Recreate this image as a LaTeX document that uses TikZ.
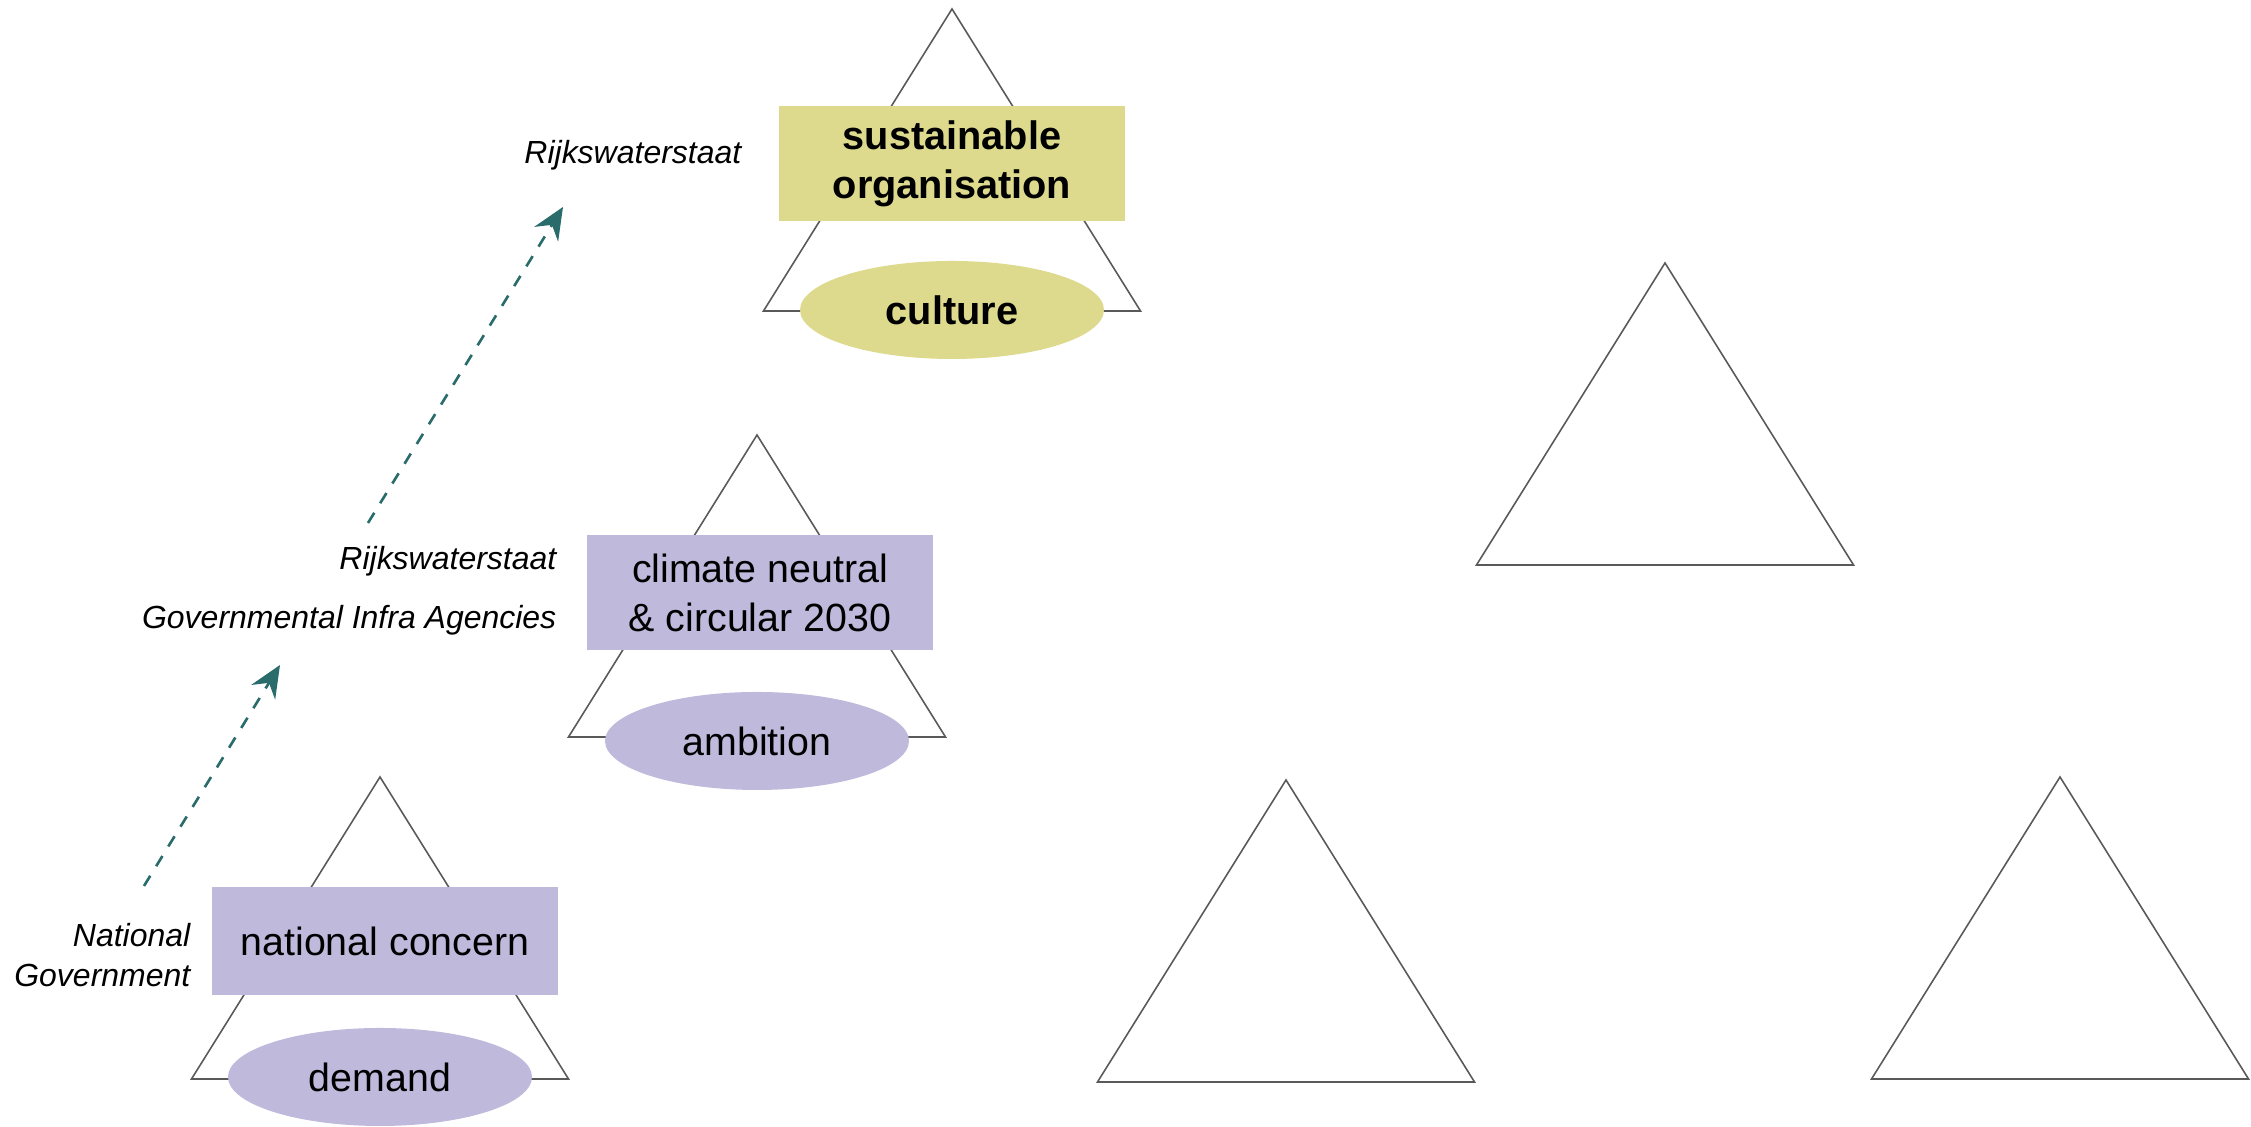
\documentclass[tikz,border=0pt]{standalone}
\usepackage{fontspec}
\setmainfont{Liberation Sans}
\usetikzlibrary{arrows.meta,shapes.geometric}
\definecolor{pyrlilac}{HTML}{BFB9DC}
\definecolor{pyrolive}{HTML}{DDDA8E}
\definecolor{pyrteal}{HTML}{2A6B6C}

\begin{document}
\begin{tikzpicture}[x=1cm,y=1cm,
    tri/.style={draw=black!65,line width=.45pt,line join=miter},
    goalbox/.style={rectangle,inner sep=0pt,minimum width=3.46cm,
      minimum height=1.15cm,align=center,
      font=\fontsize{11.2}{13.9}\selectfont},
    basecell/.style={ellipse,inner sep=0pt,minimum width=3.04cm,
      minimum height=.98cm,font=\fontsize{11.2}{13.9}\selectfont},
    actor/.style={anchor=east,align=right,inner sep=0pt,
      font=\fontsize{9.1}{11.4}\selectfont\itshape},
    climb/.style={-{Stealth[length=3.2mm,width=2.8mm,inset=1.1mm]},pyrteal,
      line width=.75pt,dash pattern=on 3.4pt off 3.2pt}]
    \useasboundingbox (0,0) rectangle (22.51,11.27);
    % pyramids
    \foreach \ax/\ay in {3.80/3.50,7.57/6.92,9.52/11.18,16.65/8.64,12.86/3.47,20.60/3.50}
      \draw[tri] (\ax,\ay) -- ++(-1.885,-3.02) -- ++(3.77,0) -- cycle;
    % level 1
    \node[goalbox,fill=pyrlilac,minimum height=1.08cm] (concern) at (3.85,1.86) {national concern};
    \node[basecell,fill=pyrlilac] (demand) at (3.80,.50) {demand};
    \node[actor] (natgov) at (1.91,1.72) {National\\Government};
    % level 2
    \node[goalbox,fill=pyrlilac] (neutral) at (7.60,5.34) {climate neutral\\\& circular 2030};
    \node[basecell,fill=pyrlilac] (ambition) at (7.57,3.86) {ambition};
    \node[actor] (rws) at (5.57,5.66) {Rijkswaterstaat};
    \node[actor] (agencies) at (5.57,5.07) {Governmental Infra Agencies};
    % level 3
    \node[goalbox,fill=pyrolive,font=\fontsize{11.3}{13.9}\selectfont\bfseries] (sustain) at (9.52,9.63) {sustainable\\organisation};
    \node[basecell,fill=pyrolive,font=\fontsize{11.3}{13.9}\selectfont\bfseries] (culture) at (9.52,8.17) {culture};
    \node[actor] (rwstop) at (7.42,9.72) {Rijkswaterstaat};
    % steps up
    \coordinate (climbAfrom) at (1.44,2.41);
    \coordinate (climbAto) at (2.80,4.62);
    \coordinate (climbBfrom) at (3.68,6.04);
    \coordinate (climbBto) at (5.63,9.20);
    \draw[climb] (climbAfrom) -- (climbAto);
    \draw[climb] (climbBfrom) -- (climbBto);
  \end{tikzpicture}
\end{document}
